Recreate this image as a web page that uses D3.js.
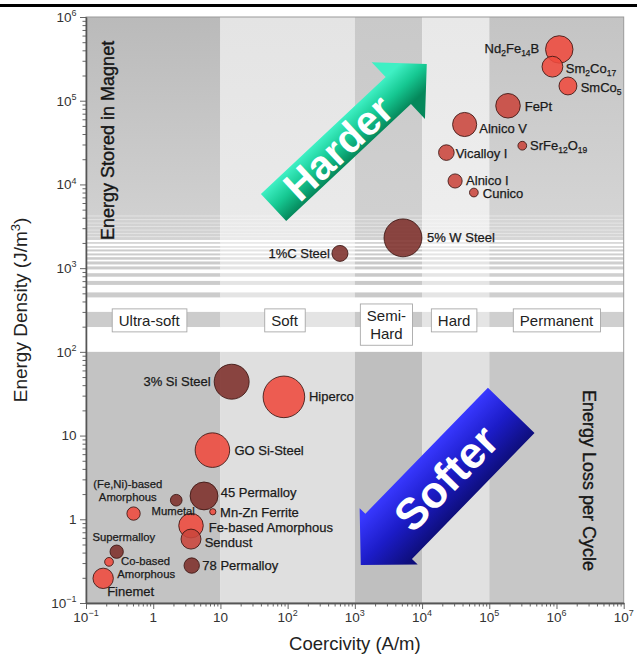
<!DOCTYPE html>
<html><head><meta charset="utf-8">
<script src="https://cdn.jsdelivr.net/npm/d3@7"></script>
<style>
html,body{margin:0;padding:0;background:#fff;}
svg{display:block;font-family:"Liberation Sans",Arial,Helvetica,sans-serif;}
</style></head><body>
<svg id="chart" width="637" height="666"></svg>
<script>
// ---------------- data ----------------
const materials = ["Nd2Fe14B","Sm2Co17","SmCo5","FePt","Alnico V","SrFe12O19","Vicalloy I","Alnico I","Cunico",
  "5% W Steel","1%C Steel","3% Si Steel","Hiperco","GO Si-Steel","45 Permalloy","Mumetal","Mn-Zn Ferrite",
  "(Fe,Ni)-based\nAmorphous","Fe-based Amorphous","Sendust","Supermalloy","Co-based\nAmorphous","78 Permalloy","Finemet"];
const coercivity = [1.1e6, 8.7e5, 1.48e6, 1.9e5, 4.3e4, 3.1e5, 2.3e4, 3.1e4, 5.9e4,
  5200, 600, 14.7, 88, 7.6, 5.7, 2.2, 7.7, 0.51, 3.65, 3.65, 0.286, 0.22, 3.74, 0.18];
const energyDensity = [4.1e5, 2.55e5, 1.5e5, 8.7e4, 5.2e4, 2.9e4, 2.4e4, 1.1e4, 8000,
  2300, 1500, 44, 29, 6.7, 1.9, 1.69, 1.23, 1.17, 0.84, 0.58, 0.41, 0.31, 0.28, 0.197];
const bubbleSize = [0.66, 0.50, 0.43, 0.59, 0.58, 0.21, 0.375, 0.34, 0.21,
  0.91, 0.385, 0.84, 1.0, 0.83, 0.67, 0.28, 0.15, 0.32, 0.59, 0.48, 0.32, 0.21, 0.37, 0.49];
const materialGroup = ["a","a","a","b","b","b","b","b","b","c","c","c","a","a","c","c","a","a","a","b","c","a","c","a"];
const formulas = ["Nd2Fe14B","Sm2Co17","SmCo5","SrFe12O19"];

const xTickValues = [1e-1, 1, 10, 1e2, 1e3, 1e4, 1e5, 1e6, 1e7];
const yTickValues = [1e-1, 1, 10, 1e2, 1e3, 1e4, 1e5, 1e6];

const regimeEdges = [0.1, 10, 1e3, 1e4, 1e5, 1e7];
const regimeLabels = [["Ultra-soft"], ["Soft"], ["Semi-", "Hard"], ["Hard"], ["Permanent"]];
const regimeLabelCoercivity = [0.87, 90, 2950, 3.0e4, 1e6];
const regimeLabelEnergy = [237, 237, 211, 237, 237];

// energy-axis zones of the background
const upperZone = [1e6, 2170];
const fineLineEnergies = [4200, 3800, 3450, 3150, 2850, 2600, 2380];
const stripeEnergies = [2000, 1791, 1627, 1458, 1306, 1153, 1006, 829, 666, 479];
const labelZone = [300, 198];
const lowerZone = [100, 0.1];

const harderArrow = {tail: [61.7, 5310], tip: [11750, 2.75e5]};
const softerArrow = {tail: [2.12e5, 20], tip: [1225, 0.284]};

// ---------------- styles / layout ----------------
const groupColor = {a: "#ef4a3e", b: "#c9453c", c: "#7d2f2a"};
const bandStyle = [
  {top: "#bababa", bot: "#d3d3d3", low: "#c3c3c3"},
  {top: "#e4e4e4", bot: "#eaeaea", low: "#dfdfdf"},
  {top: "#c9c9c9", bot: "#d1d1d1", low: "#bfbfbf"},
  {top: "#e8e8e8", bot: "#eeeeee", low: "#e1e1e1"},
  {top: "#c4c4c4", bot: "#d6d6d6", low: "#c7c7c7"}
];
const stripeWidths = [1.5, 1.5, 2, 2, 2.5, 3, 3, 3.5, 4, 5];
const labelLayout = {
  "Nd2Fe14B": {anchor: "end", lines: [[-20, 3.4]]},
  "Sm2Co17": {lines: [[13.4, 6.5]]},
  "SmCo5": {lines: [[12.7, 6]]},
  "FePt": {lines: [[16.7, 5.7]]},
  "Alnico V": {lines: [[14.6, 8.4]]},
  "SrFe12O19": {lines: [[7.7, 4.7]]},
  "Vicalloy I": {lines: [[9.3, 5]]},
  "Alnico I": {lines: [[11, 3.6]]},
  "Cunico": {lines: [[9, 5.2]]},
  "5% W Steel": {lines: [[24, 4]]},
  "1%C Steel": {anchor: "end", lines: [[-10, 4.6]]},
  "3% Si Steel": {anchor: "end", lines: [[-21, 4]]},
  "Hiperco": {lines: [[25, 4.3]]},
  "GO Si-Steel": {lines: [[22, 5]]},
  "45 Permalloy": {lines: [[16.7, 1]]},
  "Mumetal": {anchor: "middle", size: 11.3, lines: [[-3, 14.7]]},
  "Mn-Zn Ferrite": {lines: [[7.3, 5]]},
  "(Fe,Ni)-based\nAmorphous": {anchor: "middle", size: 11.3, lines: [[-5.8, -25.4], [-5.8, -12.7]]},
  "Fe-based Amorphous": {lines: [[17.7, 6.6]]},
  "Sendust": {lines: [[13.7, 8]]},
  "Supermalloy": {anchor: "middle", size: 11.3, lines: [[7.1, -10.7]]},
  "Co-based\nAmorphous": {size: 11.3, lines: [[12, 3.3], [8.3, 16]]},
  "78 Permalloy": {lines: [[10.6, 4.3]]},
  "Finemet": {lines: [[4, 17.4]]}
};

// ---------------- chart ----------------
const svg = d3.select("#chart");
const x = d3.scaleLog().domain([0.1, 1e7]).range([86, 623.7]);
const y = d3.scaleLog().domain([0.1, 1e6]).range([603, 17]);
const r = d3.scaleLinear().domain([0, 1]).range([0, 20.8]);

const defs = svg.append("defs");
bandStyle.forEach((s, i) => {
  const lg = defs.append("linearGradient").attr("id", "band" + i).attr("x1", 0).attr("y1", 0).attr("x2", 0).attr("y2", 1);
  lg.append("stop").attr("offset", 0).attr("stop-color", s.top);
  lg.append("stop").attr("offset", 1).attr("stop-color", s.bot);
});

// top rule
svg.append("rect").attr("x", 0).attr("y", 4).attr("width", 637).attr("height", 3).attr("fill", "#000");

// background bands
const bg = svg.append("g");
for (let i = 0; i < regimeEdges.length - 1; i++) {
  const x0 = x(regimeEdges[i]), x1 = x(regimeEdges[i + 1]), w = x1 - x0;
  bg.append("rect").attr("x", x0).attr("width", w).attr("y", y(upperZone[0])).attr("height", y(upperZone[1]) - y(upperZone[0]))
    .attr("fill", `url(#band${i})`);
  stripeEnergies.forEach((e, k) => {
    bg.append("rect").attr("x", x0).attr("width", w).attr("y", y(e) - stripeWidths[k] / 2).attr("height", stripeWidths[k])
      .attr("fill", bandStyle[i].low).attr("opacity", 0.85);
  });
  bg.append("rect").attr("x", x0).attr("width", w).attr("y", y(labelZone[0])).attr("height", y(labelZone[1]) - y(labelZone[0]))
    .attr("fill", bandStyle[i].low).attr("opacity", 0.85);
  bg.append("rect").attr("x", x0).attr("width", w).attr("y", y(lowerZone[0])).attr("height", y(lowerZone[1]) - y(lowerZone[0]))
    .attr("fill", bandStyle[i].low);
}
fineLineEnergies.forEach(e => {
  bg.append("rect").attr("x", x(0.1)).attr("width", x(1e7) - x(0.1)).attr("y", y(e) - 0.5).attr("height", 1)
    .attr("fill", "#fff").attr("opacity", 0.4);
});

// plot frame
svg.append("rect").attr("x", x(0.1)).attr("y", y(1e6)).attr("width", x(1e7) - x(0.1)).attr("height", y(0.1) - y(1e6))
  .attr("fill", "none").attr("stroke", "#9a9a9a").attr("stroke-width", 1);

// regime labels
regimeLabels.forEach((lines, i) => {
  const cx = x(regimeLabelCoercivity[i]), cy = y(regimeLabelEnergy[i]);
  const g = svg.append("g");
  const rect = g.append("rect");
  const t = g.append("text").attr("text-anchor", "middle").attr("font-size", 15).attr("fill", "#222");
  lines.forEach((ln, j) => {
    t.append("tspan").attr("x", cx).attr("y", cy + (j - (lines.length - 1) / 2) * 18.3 + 5.4).text(ln);
  });
  const bb = t.node().getBBox();
  rect.attr("x", bb.x - 6.5).attr("y", bb.y - 3).attr("width", bb.width + 13).attr("height", bb.height + 6)
    .attr("fill", "#fff").attr("stroke", "#a8a8a8").attr("stroke-width", 0.9);
});

// side annotations
svg.append("text").attr("transform", `translate(${x(0.1) + 27.5},${y(upperZone[1])}) rotate(-90)`)
  .attr("font-size", 18).attr("fill", "#151515").attr("stroke", "#151515").attr("stroke-width", 0.35)
  .text("Energy Stored in Magnet");
svg.append("text").attr("transform", `translate(${x(1e7) - 41},${y(35)}) rotate(90)`)
  .attr("font-size", 18).attr("fill", "#151515").attr("stroke", "#151515").attr("stroke-width", 0.35)
  .text("Energy Loss per Cycle");

// axes
function minors(lo, hi) {
  const out = [];
  for (let d = lo; d < hi; d++) for (let m = 2; m <= 9; m++) out.push(m * Math.pow(10, d));
  return out;
}
const axisColor = "#555";
const gxMinor = svg.append("g").attr("transform", `translate(0,${y(0.1)})`)
  .call(d3.axisBottom(x).tickValues(minors(-1, 7)).tickSize(3.5).tickSizeOuter(0).tickFormat(""));
const gx = svg.append("g").attr("transform", `translate(0,${y(0.1)})`)
  .call(d3.axisBottom(x).tickValues(xTickValues).tickSize(6).tickSizeOuter(0).tickFormat(""));
const gyMinor = svg.append("g").attr("transform", `translate(${x(0.1)},0)`)
  .call(d3.axisLeft(y).tickValues(minors(-1, 6)).tickSize(3.5).tickSizeOuter(0).tickFormat(""));
const gy = svg.append("g").attr("transform", `translate(${x(0.1)},0)`)
  .call(d3.axisLeft(y).tickValues(yTickValues).tickSize(6).tickSizeOuter(0).tickFormat(""));
[gxMinor, gx, gyMinor, gy].forEach(g => {
  g.selectAll("path.domain").attr("stroke", axisColor).attr("stroke-width", 1.3);
  g.selectAll(".tick line").attr("stroke", axisColor).attr("stroke-width", 0.9);
});

function powLabel(t, v) {
  const e = Math.round(Math.log10(v));
  if (e === 0) { t.text("1"); return; }
  if (e === 1) { t.text("10"); return; }
  t.append("tspan").text("10");
  t.append("tspan").attr("font-size", 9).attr("dy", -5.5).text(e < 0 ? "\u2212" + (-e) : String(e));
}
xTickValues.forEach(v => {
  const t = svg.append("text").attr("x", x(v)).attr("y", y(0.1) + 18.7).attr("text-anchor", "middle")
    .attr("font-size", 13.5).attr("fill", "#333");
  powLabel(t, v);
});
yTickValues.forEach(v => {
  const t = svg.append("text").attr("x", x(0.1) - 9.5).attr("y", y(v) + 4.8).attr("text-anchor", "end")
    .attr("font-size", 13.5).attr("fill", "#333");
  powLabel(t, v);
});

// axis titles
svg.append("text").attr("x", (x(0.1) + x(1e7)) / 2).attr("y", y(0.1) + 47).attr("text-anchor", "middle")
  .attr("font-size", 18.5).attr("fill", "#222").text("Coercivity (A/m)");
const yt = svg.append("text").attr("transform", `translate(27,${(y(0.1) + y(1e6)) / 2}) rotate(-90)`)
  .attr("text-anchor", "middle").attr("font-size", 19).attr("fill", "#222");
yt.append("tspan").text("Energy Density (J/m");
yt.append("tspan").attr("font-size", 13).attr("dy", -7).text("3");
yt.append("tspan").attr("dy", 7).text(")");

// arrows
function makeGrad(id, c0, c1, c2, w) {
  const lg = defs.append("linearGradient").attr("id", id).attr("gradientUnits", "userSpaceOnUse")
    .attr("x1", 0).attr("y1", -w / 2).attr("x2", 0).attr("y2", w / 2);
  lg.append("stop").attr("offset", 0).attr("stop-color", c0);
  lg.append("stop").attr("offset", 0.5).attr("stop-color", c1);
  lg.append("stop").attr("offset", 1).attr("stop-color", c2);
}
makeGrad("gradHard", "#3ff0c4", "#16c892", "#05885b", 37);
makeGrad("gradSoft", "#0e0e7c", "#1c1cc8", "#3838ff", 65);

function drawArrow(a, w, hw, hl, grad, label, fs, tPos, flip) {
  const x0 = x(a.tail[0]), y0 = y(a.tail[1]), x1 = x(a.tip[0]), y1 = y(a.tip[1]);
  const L = Math.hypot(x1 - x0, y1 - y0), ang = Math.atan2(y1 - y0, x1 - x0) * 180 / Math.PI;
  const g = svg.append("g").attr("transform", `translate(${x0},${y0}) rotate(${ang})`);
  const pts = [[0, -w / 2], [L - hl, -w / 2], [L - hl, -hw / 2], [L, 0], [L - hl, hw / 2], [L - hl, w / 2], [0, w / 2]];
  g.append("path").attr("d", d3.line()(pts) + "Z").attr("fill", `url(#${grad})`);
  g.append("text").attr("transform", `translate(${tPos},0) rotate(${flip ? 180 : 0})`)
    .attr("text-anchor", "middle").attr("dy", "0.36em").attr("font-size", fs).attr("font-weight", "bold")
    .attr("fill", "#fff").text(label);
}
drawArrow(harderArrow, 37, 78, 39, "gradHard", "Harder", 41, 88, false);
drawArrow(softerArrow, 65, 81, 40, "gradSoft", "Softer", 44, 94, true);

// bubbles
const pts = materials.map((m, i) => ({name: m, cx: x(coercivity[i]), cy: y(energyDensity[i]), rad: r(bubbleSize[i]), g: materialGroup[i]}));
svg.append("g").selectAll("circle").data(pts).join("circle")
  .attr("cx", d => d.cx).attr("cy", d => d.cy).attr("r", d => d.rad)
  .attr("fill", d => groupColor[d.g]).attr("fill-opacity", 0.88)
  .attr("stroke", "#3b1512").attr("stroke-opacity", 0.85).attr("stroke-width", 1);

// labels
pts.forEach(d => {
  const lay = labelLayout[d.name];
  const lines = d.name.split("\n");
  lines.forEach((ln, j) => {
    const t = svg.append("text").attr("x", d.cx + lay.lines[j][0]).attr("y", d.cy + lay.lines[j][1])
      .attr("text-anchor", lay.anchor || "start").attr("font-size", lay.size || 13).attr("fill", "#1a1a1a")
      .attr("stroke", "#1a1a1a").attr("stroke-width", 0.25);
    if (formulas.includes(ln)) {
      let prevDigit = false;
      ln.match(/[A-Za-z]+|\d+/g).forEach(part => {
        const isDigit = /\d/.test(part);
        const sp = t.append("tspan").text(part);
        if (isDigit) sp.attr("font-size", 8.5).attr("dy", 3);
        else if (prevDigit) sp.attr("dy", -3);
        prevDigit = isDigit;
      });
    } else t.text(ln);
  });
});
</script></body></html>
